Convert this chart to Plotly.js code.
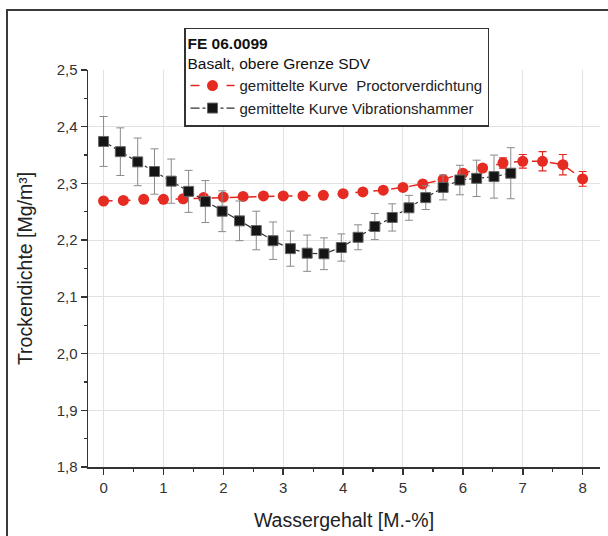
<!DOCTYPE html>
<html>
<head>
<meta charset="utf-8">
<script src="https://cdn.plot.ly/plotly-3.0.1.min.js"></script>
<style>
  html, body { margin: 0; padding: 0; background: #fff; }
  #wrap { position: relative; width: 608px; height: 536px; overflow: hidden; }
  #chart { position: absolute; left: 0; top: 0; width: 608px; height: 536px; }
  #frame { position: absolute; left: 6px; top: 9px; width: 700px; height: 600px;
           border-left: 2px solid #3a3a3a; border-top: 2px solid #3a3a3a; pointer-events: none; }
</style>
</head>
<body>
<div id="wrap">
  <div id="chart"></div>
  <div id="frame"></div>
</div>
<script>
// Proctorverdichtung (red circles)
const proctorX = [0, 0.33, 0.67, 1, 1.33, 1.67, 2, 2.33, 2.67, 3, 3.33, 3.67, 4, 4.33, 4.67, 5, 5.33, 5.67, 6, 6.33, 6.67, 7, 7.33, 7.67, 8];
const proctorY = [2.269, 2.270, 2.272, 2.272, 2.273, 2.275, 2.276, 2.277, 2.278, 2.278, 2.278, 2.279, 2.282, 2.285, 2.288, 2.293, 2.299, 2.307, 2.318, 2.327, 2.336, 2.339, 2.339, 2.333, 2.308];
const proctorErr = [0.004, 0.004, 0.004, 0.004, 0.004, 0.004, 0.004, 0.004, 0.004, 0.004, 0.004, 0.004, 0.004, 0.004, 0.004, 0.004, 0.004, 0.005, 0.005, 0.006, 0.009, 0.012, 0.017, 0.018, 0.013];

// Vibrationshammer (black squares)
const hammerX = [0, 0.28, 0.57, 0.85, 1.13, 1.42, 1.7, 1.98, 2.27, 2.55, 2.83, 3.12, 3.4, 3.68, 3.97, 4.25, 4.53, 4.82, 5.1, 5.38, 5.67, 5.95, 6.23, 6.52, 6.8];
const hammerY = [2.374, 2.356, 2.338, 2.321, 2.304, 2.286, 2.268, 2.251, 2.234, 2.217, 2.199, 2.185, 2.177, 2.176, 2.187, 2.205, 2.224, 2.240, 2.257, 2.275, 2.293, 2.306, 2.309, 2.312, 2.318];
const hammerErr = [0.044, 0.042, 0.042, 0.040, 0.039, 0.037, 0.037, 0.036, 0.035, 0.034, 0.033, 0.031, 0.032, 0.028, 0.024, 0.022, 0.023, 0.024, 0.022, 0.021, 0.022, 0.026, 0.032, 0.038, 0.045];

const xTicks = [0, 1, 2, 3, 4, 5, 6, 7, 8];
const yTicks = [1.8, 1.9, 2.0, 2.1, 2.2, 2.3, 2.4, 2.5];

const legendTitle = '<b>FE 06.0099</b><br>Basalt, obere Grenze SDV';
const nameProctor = 'gemittelte Kurve\u00A0\u00A0Proctorverdichtung';
const nameHammer = 'gemittelte Kurve Vibrationshammer';

const FONT = 'Liberation Sans, Arial, Helvetica, sans-serif';

const traces = [
  {
    x: proctorX, y: proctorY, type: 'scatter', mode: 'lines+markers', name: nameProctor,
    line: { color: '#e3261e', width: 1.5, dash: 'dash' },
    marker: { symbol: 'circle', size: 11, color: '#e52b22', line: { width: 0 } },
    error_y: { type: 'data', array: proctorErr, visible: true, color: '#e3261e', thickness: 1.2, width: 4 }
  },
  {
    x: hammerX, y: hammerY, type: 'scatter', mode: 'lines+markers', name: nameHammer,
    line: { color: '#333333', width: 1.2, dash: 'dashdot' },
    marker: { symbol: 'square', size: 10, color: '#151515', line: { width: 1, color: '#666' } },
    error_y: { type: 'data', array: hammerErr, visible: true, color: '#8a8a8a', thickness: 1, width: 4 }
  }
];

const layout = {
  width: 608, height: 536,
  margin: { l: 88, r: 8, t: 70, b: 69 },
  paper_bgcolor: '#ffffff', plot_bgcolor: '#ffffff',
  separators: ',.',
  font: { family: FONT, color: '#222', size: 15 },
  showlegend: true,
  legend: {
    x: 0.1875, y: 1.107, xanchor: 'left', yanchor: 'top',
    bgcolor: '#ffffff', bordercolor: '#333', borderwidth: 1.5,
    font: { family: FONT, size: 15, color: '#222' },
    title: { text: legendTitle, side: 'top', font: { family: FONT, size: 15.5, color: '#111' } },
    itemwidth: 44,
    tracegroupgap: 0
  },
  xaxis: {
    range: [-0.26, 8.29],
    tickvals: xTicks, ticktext: xTicks.map(String),
    showline: true, linecolor: '#333', linewidth: 1.5, mirror: false,
    ticks: 'outside', ticklen: 6, tickwidth: 1.5, tickcolor: '#333',
    minor: { dtick: 0.5, ticks: 'outside', ticklen: 3, tickwidth: 1.2, tickcolor: '#333', showgrid: false },
    showgrid: true, gridcolor: '#e2e2e2', gridwidth: 1,
    zeroline: false,
    tickfont: { family: FONT, size: 15, color: '#333' },
    title: { text: 'Wassergehalt [M.-%]', font: { family: FONT, size: 19.5, color: '#222' }, standoff: 19 }
  },
  yaxis: {
    range: [1.8, 2.5],
    tickvals: yTicks, tickformat: '.1f',
    showline: true, linecolor: '#333', linewidth: 1.5, mirror: false,
    ticks: 'outside', ticklen: 6, tickwidth: 1.5, tickcolor: '#333',
    minor: { dtick: 0.05, ticks: 'outside', ticklen: 3, tickwidth: 1.2, tickcolor: '#333', showgrid: false },
    showgrid: true, gridcolor: '#e2e2e2', gridwidth: 1,
    zeroline: false,
    tickfont: { family: FONT, size: 15, color: '#333' },
    title: { text: 'Trockendichte [Mg/m³]', font: { family: FONT, size: 19.5, color: '#222' }, standoff: 19 }
  }
};

Plotly.newPlot('chart', traces, layout, { staticPlot: true, displayModeBar: false });
</script>
</body>
</html>
